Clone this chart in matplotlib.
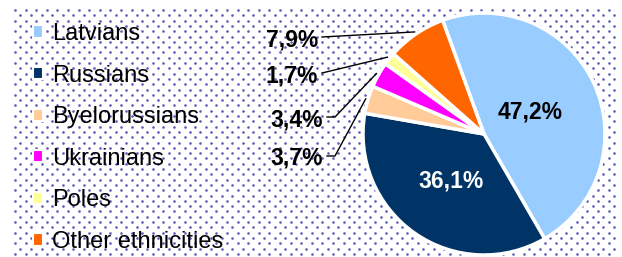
import matplotlib.pyplot as plt
import numpy as np
from matplotlib.patches import Patch

groups = ['Latvians', 'Russians', 'Byelorussians', 'Ukrainians', 'Poles', 'Other ethnicities']
shares = [47.2, 36.1, 3.7, 3.4, 1.7, 7.9]
colors = ['#99ccff', '#003366', '#ffcc99', '#ff00ff', '#ffff99', '#ff6600']

W, H = 622, 257
plt.rcParams['font.family'] = ['Liberation Sans', 'DejaVu Sans']

fig = plt.figure(figsize=(W / 100, H / 100), dpi=100)

# dotted backdrop (pixel coords)
bg = fig.add_axes([0, 0, 1, 1])
bg.set_xlim(0, W)
bg.set_ylim(H, 0)
bg.axis('off')
xs, ys = [], []
for i, y in enumerate(np.arange(10, 255, 5.3)):
    x = np.arange(15 + (i % 2) * 5.3, 619, 10.6)
    xs.extend(x)
    ys.extend([y] * len(x))
bg.scatter(xs, ys, s=3.5, color='#5a5ab6', linewidths=0)

# pie
cx, cy, R = 484, 134, 121
ax = fig.add_axes([(cx - R) / W, (H - cy - R) / H, 2 * R / W, 2 * R / H])
wedges, _ = ax.pie(shares, colors=colors, startangle=110, counterclock=False,
                   wedgeprops=dict(edgecolor='white', linewidth=2.5))
ax.set_xlim(-1, 1)
ax.set_ylim(-1, 1)


def px(x, y):
    return (x - cx) / R, (cy - y) / R


def fmt(v):
    return f'{v:.1f}%'.replace('.', ',')


mids = [np.deg2rad((w.theta1 + w.theta2) / 2) for w in wedges]

# labels inside the two big slices
for i, r, col in [(0, 0.42, 'black'), (1, 0.47, 'white')]:
    ax.text(r * np.cos(mids[i]), r * np.sin(mids[i]), fmt(shares[i]),
            ha='center', va='center', fontsize=16.5, fontweight='bold', color=col)

# labels outside with leader lines
outer = {5: (318, 37, None), 4: (318, 73, None), 3: (323, 117, 335), 2: (323, 156, 335)}
for i, (rx, ry, elbow) in outer.items():
    tx, ty = px(rx, ry)
    ax.text(tx, ty, fmt(shares[i]), ha='right', va='center_baseline',
            fontsize=16.5, fontweight='bold', color='black')
    pts = [px(rx + 4, ry)]
    if elbow:
        pts.append(px(elbow, ry))
    pts.append((1.02 * np.cos(mids[i]), 1.02 * np.sin(mids[i])))
    pts = np.array(pts)
    ax.plot(pts[:, 0], pts[:, 1], color='black', lw=1, clip_on=False)

handles = [Patch(facecolor=c, edgecolor='white', linewidth=1.5) for c in colors]
fig.legend(handles, groups, loc='upper left', bbox_to_anchor=(33 / W, 1 - 23 / H),
           frameon=False, fontsize=17, handlelength=0.42, handleheight=0.42,
           handletextpad=0.4, labelspacing=0.83, borderpad=0, borderaxespad=0)

plt.savefig('out.png', dpi=100)
